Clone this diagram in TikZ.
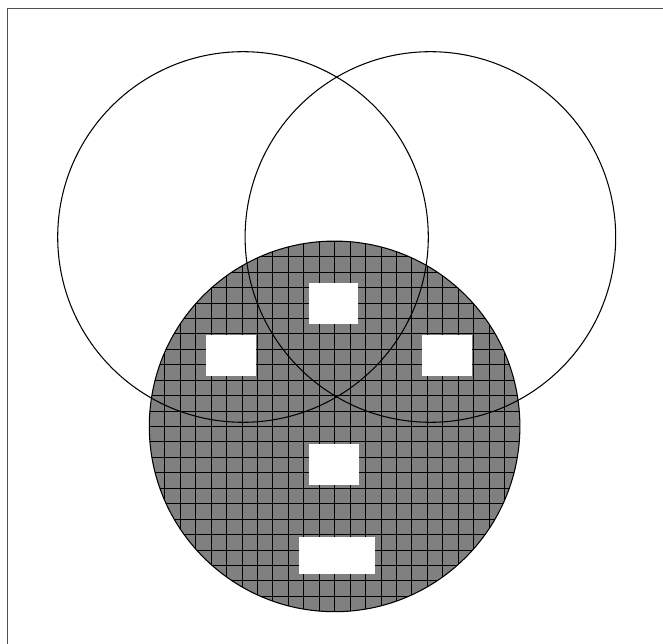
\documentclass[tikz,border=0pt]{standalone}
\usepackage{xcolor}
\usepackage{tikz}
\usetikzlibrary{calc}
\definecolor{framegray}{RGB}{80,80,80}
\definecolor{discgray}{RGB}{128,128,128}
\tikzset{
  ring/.style={draw=black, line width=0.6pt},
  gridline/.style={draw=black, line width=0.4pt},
  hole/.style={fill=white, draw=none},
  frameline/.style={draw=framegray, line width=0.8pt}
}

\begin{document}
\begin{tikzpicture}[x=0.02cm, y=-0.02cm]

  % Page size
  \useasboundingbox (0,0) rectangle (663,644);

  % Centres
  \coordinate (cl) at (243,237);
  \coordinate (cr) at (430.4,237);
  \coordinate (cb) at (334.6,426.4);

  % Frame (top and left edges only visible)
  \draw[frameline] (7.5,650) |- (670,8.5);

  % Lower disc with grid
  \begin{scope}
    \clip (cb) circle[radius=185.3];
    \fill[discgray] (cb) circle[radius=185.3];
    \foreach \i in {-12,...,12} {
      \draw[gridline] ($(cb)+(\i*15.44,-190)$) -- ($(cb)+(\i*15.44,190)$);
      \draw[gridline] ($(cb)+(-190,\i*15.44)$) -- ($(cb)+(190,\i*15.44)$);
    }
  \end{scope}

  % White windows
  \fill[hole] (309,283) rectangle (358,324);
  \fill[hole] (206,335) rectangle (256,376);
  \fill[hole] (421.7,335) rectangle (471.7,376);
  \fill[hole] (309,444) rectangle (359,485);
  \fill[hole] (299,537) rectangle (375,574);

  % Outlines
  \draw[ring] (cl) circle[radius=185.3];
  \draw[ring] (cr) circle[radius=185.3];
  \draw[ring] (cb) circle[radius=185.3];

\end{tikzpicture}
\end{document}
